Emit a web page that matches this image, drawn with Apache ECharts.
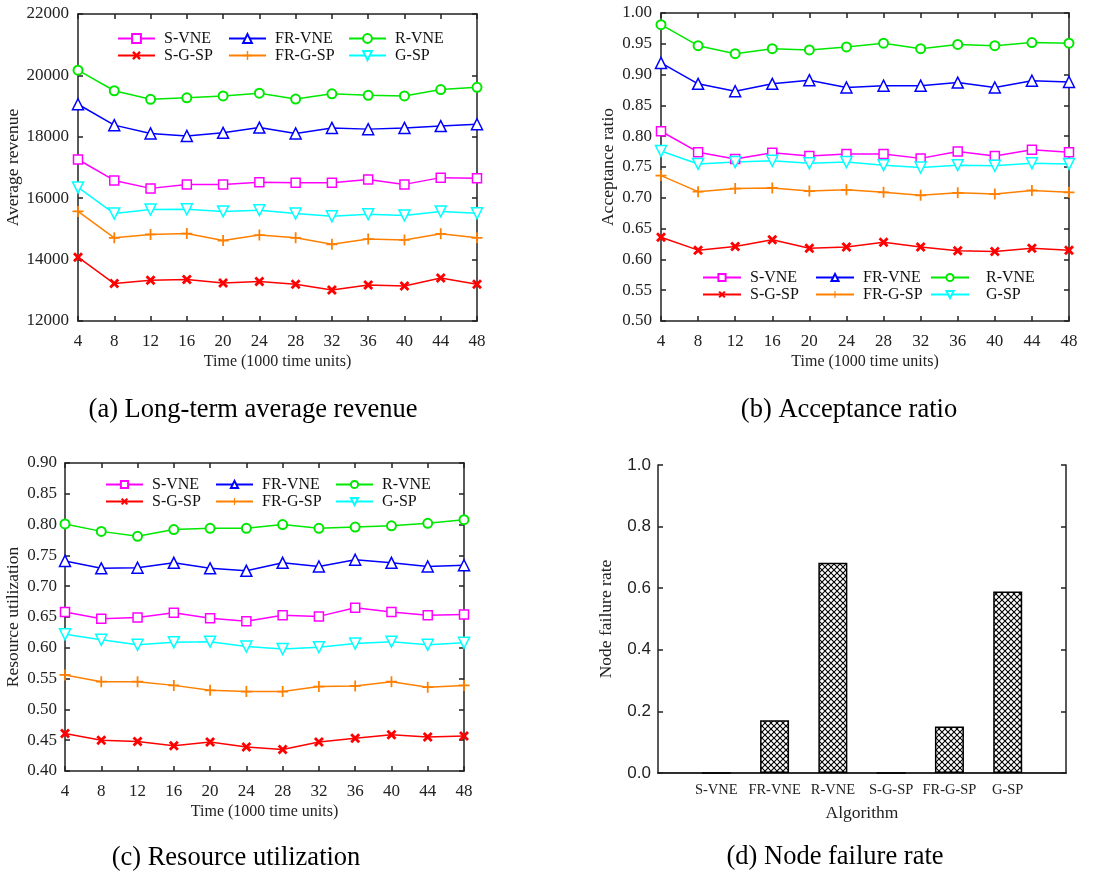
<!DOCTYPE html>
<html><head><meta charset="utf-8">
<script src="https://cdn.jsdelivr.net/npm/echarts@6/dist/echarts.min.js"></script>
<style>html,body{margin:0;padding:0;background:#fff}#c{width:1110px;height:872px}</style>
</head><body><div id="c"></div>
<script>
// ---------- data ----------
const times = ['4','8','12','16','20','24','28','32','36','40','44','48'];
const seriesNames = ['S-VNE','FR-VNE','R-VNE','S-G-SP','FR-G-SP','G-SP'];

// (a) long-term average revenue
const revSVNE  = [17260,16580,16320,16450,16450,16520,16500,16500,16610,16450,16670,16650];
const revFRVNE = [19060,18380,18110,18030,18130,18300,18110,18290,18250,18290,18350,18410];
const revRVNE  = [20170,19500,19220,19270,19330,19420,19230,19400,19350,19330,19540,19610];
const revSGSP  = [14080,13220,13330,13350,13240,13290,13200,13010,13170,13140,13400,13200];
const revFRGSP = [15570,14710,14820,14850,14620,14800,14710,14500,14670,14640,14840,14710];
const revGSP   = [16350,15500,15630,15640,15570,15610,15500,15410,15480,15440,15570,15510];

// (b) acceptance ratio
const accSVNE  = [0.808,0.774,0.763,0.773,0.768,0.771,0.771,0.764,0.775,0.768,0.778,0.774];
const accFRVNE = [0.919,0.885,0.873,0.885,0.891,0.879,0.882,0.882,0.887,0.879,0.890,0.888];
const accRVNE  = [0.981,0.947,0.934,0.942,0.940,0.945,0.951,0.942,0.949,0.947,0.952,0.951];
const accSGSP  = [0.636,0.615,0.621,0.632,0.618,0.620,0.628,0.620,0.614,0.613,0.618,0.615];
const accFRGSP = [0.736,0.710,0.715,0.716,0.711,0.713,0.709,0.704,0.708,0.706,0.712,0.709];
const accGSP   = [0.776,0.755,0.758,0.760,0.756,0.758,0.753,0.749,0.753,0.752,0.756,0.755];

// (c) resource utilization
const utlSVNE  = [0.658,0.647,0.649,0.657,0.648,0.643,0.653,0.651,0.665,0.658,0.653,0.654];
const utlFRVNE = [0.741,0.729,0.730,0.738,0.729,0.725,0.738,0.732,0.743,0.738,0.732,0.734];
const utlRVNE  = [0.801,0.789,0.781,0.792,0.794,0.794,0.800,0.794,0.796,0.798,0.802,0.808];
const utlSGSP  = [0.461,0.450,0.448,0.441,0.447,0.439,0.435,0.447,0.453,0.459,0.455,0.457];
const utlFRGSP = [0.556,0.545,0.545,0.539,0.531,0.529,0.529,0.537,0.538,0.545,0.536,0.539];
const utlGSP   = [0.622,0.613,0.605,0.609,0.610,0.602,0.598,0.601,0.607,0.610,0.605,0.608];

// (d) node failure rate
const algorithms = ['S-VNE','FR-VNE','R-VNE','S-G-SP','FR-G-SP','G-SP'];
const failureRate = [0, 0.171, 0.683, 0, 0.151, 0.589];

// ---------- styles ----------
const SERIF = 'Liberation Serif';
const SANS = 'Liberation Sans';
const AX = '#222';
const styles = {
  'S-VNE':  {color:'#ff00ff', symbol:'rect', size:9, hollow:true},
  'FR-VNE': {color:'#0000ff', symbol:'triangle', size:11, hollow:true},
  'R-VNE':  {color:'#00e800', symbol:'emptyCircle', size:9},
  'S-G-SP': {color:'#ff0000', symbol:'path://M2,0 L5,3 L8,0 L10,2 L7,5 L10,8 L8,10 L5,7 L2,10 L0,8 L3,5 L0,2 Z', size:10},
  'FR-G-SP':{color:'#ff8000', symbol:'path://M4.2,0 H5.8 V4.2 H10 V5.8 H5.8 V10 H4.2 V5.8 H0 V4.2 H4.2 Z', size:11},
  'G-SP':   {color:'#00ffff', symbol:'path://M0,0 L10,0 L5,8.7 Z', size:11, hollow:true}
};

function lineSeries(name, data, gi) {
  const s = styles[name];
  return {
    type:'line', name, data, xAxisIndex: gi*2, yAxisIndex: gi*2,
    symbol: s.symbol, symbolSize: s.size, showAllSymbol:true,
    lineStyle:{color:s.color, width:1.5},
    itemStyle: s.hollow ? {color:'#fff', borderColor:s.color, borderWidth:1.5}
             : (s.symbol==='emptyCircle' ? {color:s.color, borderColor:s.color, borderWidth:1.5} : {color:s.color, borderWidth:0}),
    z: 3
  };
}

const grids = [
  {left:78,  top:14,  width:399, height:307},
  {left:661, top:13,  width:408, height:308},
  {left:65,  top:463, width:399, height:308},
  {left:658, top:465, width:408, height:308}
];

const tickLbl = {fontFamily:SERIF, fontSize:17, color:AX};
function xMain(gi, data, extra) {
  return Object.assign({
    type:'category', gridIndex:gi, data, boundaryGap:false, position:'bottom',
    axisLine:{lineStyle:{color:AX, width:1.5}},
    axisTick:{inside:true, length:5, interval:0, lineStyle:{color:AX, width:1.5}},
    axisLabel:Object.assign({interval:0, margin:12}, tickLbl),
    name:'Time (1000 time units)', nameLocation:'middle', nameGap:33,
    nameTextStyle:{fontFamily:SERIF, fontSize:16, color:AX},
    splitLine:{show:false}
  }, extra||{});
}
function xTop(gi, data, ticks) {
  return {
    type:'category', gridIndex:gi, data, boundaryGap:false, position:'top',
    axisLine:{lineStyle:{color:AX, width:1.5}},
    axisTick:{show:ticks, inside:true, length:5, interval:0, lineStyle:{color:AX, width:1.5}},
    axisLabel:{show:false}, splitLine:{show:false}
  };
}
function yMain(gi, min, max, interval, name, nameGap, fmt, margin, lbl) {
  return {
    type:'value', gridIndex:gi, min, max, interval, position:'left',
    axisLine:{show:true, lineStyle:{color:AX, width:1.5}},
    axisTick:{show:true, inside:true, length:5, lineStyle:{color:AX, width:1.5}},
    axisLabel:Object.assign({margin, formatter:fmt}, lbl||tickLbl),
    splitLine:{show:false},
    name, nameLocation:'middle', nameGap,
    nameTextStyle:{fontFamily:SERIF, fontSize:17.5, color:AX}
  };
}
function yRight(gi, min, max, interval) {
  return {
    type:'value', gridIndex:gi, min, max, interval, position:'right',
    axisLine:{show:true, lineStyle:{color:AX, width:1.5}},
    axisTick:{show:true, inside:true, length:5, lineStyle:{color:AX, width:1.5}},
    axisLabel:{show:false}, splitLine:{show:false}
  };
}

function legCol(names, left, top, ih, pad, iw) {
  return {
    orient:'vertical', left, top, padding:0, itemGap:0,
    itemWidth: iw||37, itemHeight: ih, data:names, selectedMode:false,
    textStyle:{fontFamily:SERIF, fontSize:16, color:'#111', lineHeight:17, padding:[0,0,0,pad]}
  };
}

// hatch pattern for bars
const pc = document.createElement('canvas');
pc.width = 6; pc.height = 6;
const pctx = pc.getContext('2d');
pctx.fillStyle = '#fff'; pctx.fillRect(0,0,6,6);
pctx.strokeStyle = '#000'; pctx.lineWidth = 1.1;
pctx.beginPath();
pctx.moveTo(-1,-1); pctx.lineTo(7,7);
pctx.moveTo(7,-1); pctx.lineTo(-1,7);
pctx.stroke();

const padCats = [''].concat(algorithms, ['']);
const barData = ['-'].concat(failureRate, ['-']);

const series = [];
const panels = [
  [revSVNE, revFRVNE, revRVNE, revSGSP, revFRGSP, revGSP],
  [accSVNE, accFRVNE, accRVNE, accSGSP, accFRGSP, accGSP],
  [utlSVNE, utlFRVNE, utlRVNE, utlSGSP, utlFRGSP, utlGSP]
];
panels.forEach((arrs, gi) => {
  arrs.forEach((d, k) => series.push(lineSeries(seriesNames[k], d, gi)));
});
series.push({
  type:'bar', name:'Node failure rate', data:barData, xAxisIndex:6, yAxisIndex:6,
  barWidth:29,
  itemStyle:{color:{image:pc, repeat:'repeat'}, borderColor:'#000', borderWidth:1.5}
});

const TF = '26.5px "Liberation Serif"';
const option = {
  animation:false,
  backgroundColor:'#fff',
  grid: grids,
  xAxis: [
    xMain(0, times), xTop(0, times, true),
    xMain(1, times), xTop(1, times, true),
    xMain(2, times), xTop(2, times, true),
    xMain(3, padCats, {
      axisTick:{show:false},
      axisLabel:{interval:0, margin:10, fontFamily:SERIF, fontSize:14.5, color:AX},
      name:'Algorithm', nameGap:31, nameTextStyle:{fontFamily:SERIF, fontSize:17.5, color:AX}
    }),
    xTop(3, padCats, false)
  ],
  yAxis: [
    yMain(0, 12000, 22000, 2000, 'Average revenue', 54, v=>String(v), 9), yRight(0, 12000, 22000, 2000),
    yMain(1, 0.5, 1.0, 0.05, 'Acceptance ratio', 44, v=>v.toFixed(2), 9), yRight(1, 0.5, 1.0, 0.05),
    yMain(2, 0.4, 0.9, 0.05, 'Resource utilization', 43, v=>v.toFixed(2), 8), yRight(2, 0.4, 0.9, 0.05),
    yMain(3, 0, 1.0, 0.2, 'Node failure rate', 43, v=>v.toFixed(1), 7, {fontFamily:SANS, fontSize:17, color:AX}), yRight(3, 0, 1.0, 0.2)
  ],
  legend: [
    legCol(['S-VNE','S-G-SP'], 117, 30, 11, 4),
    legCol(['FR-VNE','FR-G-SP'], 228, 30, 11, 4),
    legCol(['R-VNE','G-SP'], 348, 30, 11, 4),
    legCol(['S-VNE','S-G-SP'], 702, 269, 9, 4, 38),
    legCol(['FR-VNE','FR-G-SP'], 815, 269, 9, 4, 38),
    legCol(['R-VNE','G-SP'], 930, 269, 9, 12, 38),
    legCol(['S-VNE','S-G-SP'], 105, 476, 9, 4),
    legCol(['FR-VNE','FR-G-SP'], 215, 476, 9, 4),
    legCol(['R-VNE','G-SP'], 335, 476, 9, 4)
  ],
  graphic: [
    {type:'text', style:{text:'(a) Long-term average revenue', x:253, y:410, textAlign:'center', textVerticalAlign:'middle', font:TF, fill:'#000'}},
    {type:'text', style:{text:'(b) Acceptance ratio', x:849, y:410, textAlign:'center', textVerticalAlign:'middle', font:TF, fill:'#000'}},
    {type:'text', style:{text:'(c) Resource utilization', x:236, y:858, textAlign:'center', textVerticalAlign:'middle', font:TF, fill:'#000'}},
    {type:'text', style:{text:'(d) Node failure rate', x:835, y:857, textAlign:'center', textVerticalAlign:'middle', font:TF, fill:'#000'}}
  ],
  series
};
const chart = echarts.init(document.getElementById('c'), null, {renderer:'canvas'});
chart.setOption(option);
</script>
</body></html>
